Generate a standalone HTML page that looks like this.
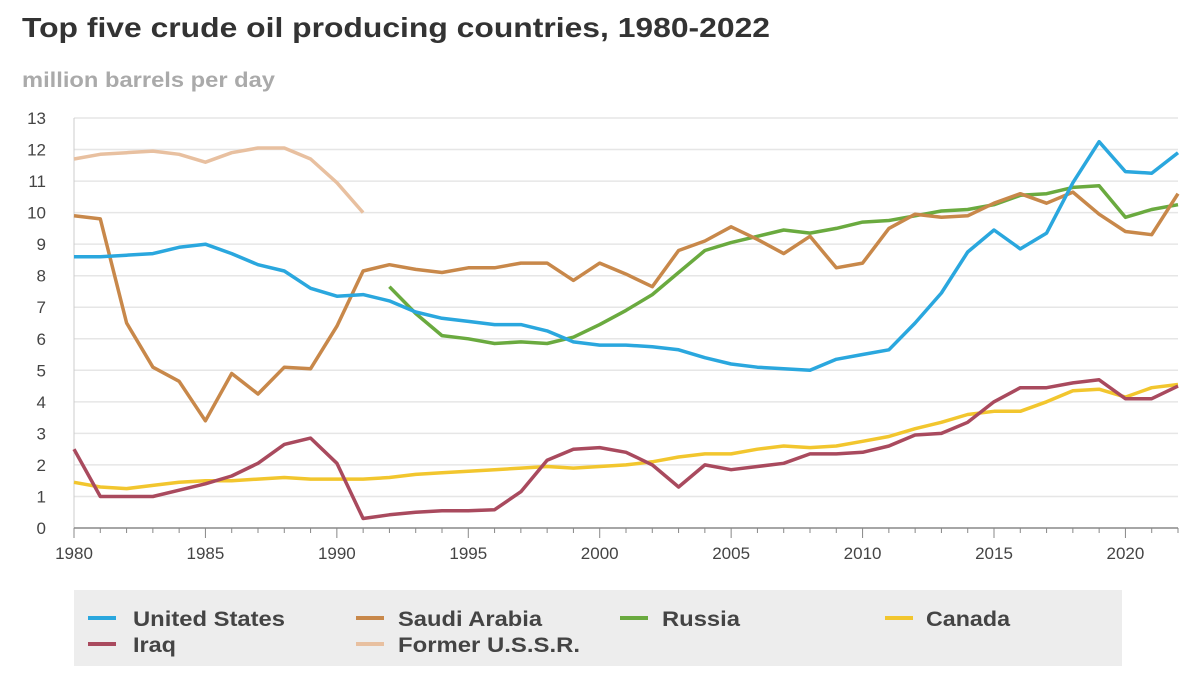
<!DOCTYPE html>
<html><head><meta charset="utf-8"><style>
body{margin:0;background:#fff;width:1200px;height:675px;overflow:hidden;font-family:"Liberation Sans",sans-serif}
</style></head><body>
<svg id="s" width="1200" height="675" xmlns="http://www.w3.org/2000/svg" font-family="Liberation Sans, sans-serif">
<text x="22" y="37" font-size="28" font-weight="bold" fill="#333" textLength="748" lengthAdjust="spacingAndGlyphs">Top five crude oil producing countries, 1980-2022</text>
<text x="22" y="87" font-size="21" font-weight="bold" fill="#aaa" textLength="253" lengthAdjust="spacingAndGlyphs">million barrels per day</text>
<g id="grid"></g>
<g font-size="17" fill="#444" text-anchor="end" id="ylab"></g>
<g font-size="17" fill="#444" text-anchor="middle" id="xlab"></g>
<g id="lines" fill="none" stroke-width="3.5" stroke-linejoin="round"></g>
<rect x="74" y="590" width="1048" height="76" fill="#ededed"/>
<g stroke-width="4">
<line x1="88" y1="618" x2="116" y2="618" stroke="#2aa7de"/>
<line x1="356" y1="618" x2="384" y2="618" stroke="#c8884a"/>
<line x1="620" y1="618" x2="648" y2="618" stroke="#6aaa3f"/>
<line x1="885" y1="618" x2="913" y2="618" stroke="#f2c62e"/>
<line x1="88" y1="644" x2="116" y2="644" stroke="#a94a5e"/>
<line x1="356" y1="644" x2="384" y2="644" stroke="#e8c0a0"/>
</g>
<g font-size="21" font-weight="bold" fill="#444" lengthAdjust="spacingAndGlyphs">
<text x="133" y="626" textLength="152" lengthAdjust="spacingAndGlyphs">United States</text>
<text x="398" y="626" textLength="144" lengthAdjust="spacingAndGlyphs">Saudi Arabia</text>
<text x="662" y="626" textLength="78" lengthAdjust="spacingAndGlyphs">Russia</text>
<text x="926" y="626" textLength="84" lengthAdjust="spacingAndGlyphs">Canada</text>
<text x="133" y="652" textLength="43" lengthAdjust="spacingAndGlyphs">Iraq</text>
<text x="398" y="652" textLength="182" lengthAdjust="spacingAndGlyphs">Former U.S.S.R.</text>
</g>
</svg>
<script>
var X=y=>74+(y-1980)*1104/42, Y=v=>528-v*410/13, NS="http://www.w3.org/2000/svg";
function el(p,t,a,txt){var e=document.createElementNS(NS,t);for(var k in a)e.setAttribute(k,a[k]);if(txt!=null)e.textContent=txt;document.getElementById(p).appendChild(e);}
for(var i=0;i<=13;i++){ if(i>0)el("grid","line",{x1:74,x2:1178,y1:Y(i),y2:Y(i),stroke:"#e6e6e6","stroke-width":1.5}); el("ylab","text",{x:46,y:Y(i)+6},i);}
el("grid","line",{x1:74,x2:74,y1:118,y2:528,stroke:"#ccc","stroke-width":1});
el("grid","line",{x1:74,x2:1178,y1:528,y2:528,stroke:"#888","stroke-width":1.5});
for(var yr=1980;yr<=2022;yr++){el("grid","line",{x1:X(yr),x2:X(yr),y1:528,y2:yr%5==0?538:533,stroke:"#888","stroke-width":1});}
for(var yr=1980;yr<=2020;yr+=5)el("xlab","text",{x:X(yr),y:559},yr);
var D=[
["#e8c0a0",1980,[11.7,11.85,11.9,11.95,11.85,11.6,11.9,12.05,12.05,11.7,10.95,10.0]],
["#f2c62e",1980,[1.45,1.3,1.25,1.35,1.45,1.5,1.5,1.55,1.6,1.55,1.55,1.55,1.6,1.7,1.75,1.8,1.85,1.9,1.95,1.9,1.95,2.0,2.1,2.25,2.35,2.35,2.5,2.6,2.55,2.6,2.75,2.9,3.15,3.35,3.6,3.7,3.7,4.0,4.35,4.4,4.15,4.45,4.55]],
["#a94a5e",1980,[2.5,1.0,1.0,1.0,1.2,1.4,1.65,2.05,2.65,2.85,2.05,0.3,0.42,0.5,0.55,0.55,0.58,1.15,2.15,2.5,2.55,2.4,2.0,1.3,2.0,1.85,1.95,2.05,2.35,2.35,2.4,2.6,2.95,3.0,3.35,4.0,4.45,4.45,4.6,4.7,4.1,4.1,4.5]],
["#6aaa3f",1992,[7.65,6.8,6.1,6.0,5.85,5.9,5.85,6.05,6.45,6.9,7.4,8.1,8.8,9.05,9.25,9.45,9.35,9.5,9.7,9.75,9.9,10.05,10.1,10.25,10.55,10.6,10.8,10.85,9.85,10.1,10.25]],
["#c8884a",1980,[9.9,9.8,6.5,5.1,4.65,3.4,4.9,4.25,5.1,5.05,6.4,8.15,8.35,8.2,8.1,8.25,8.25,8.4,8.4,7.85,8.4,8.05,7.65,8.8,9.1,9.55,9.15,8.7,9.25,8.25,8.4,9.5,9.95,9.85,9.9,10.3,10.6,10.3,10.65,9.95,9.4,9.3,10.6]],
["#2aa7de",1980,[8.6,8.6,8.65,8.7,8.9,9.0,8.7,8.35,8.15,7.6,7.35,7.4,7.2,6.85,6.65,6.55,6.45,6.45,6.25,5.9,5.8,5.8,5.75,5.65,5.4,5.2,5.1,5.05,5.0,5.35,5.5,5.65,6.5,7.45,8.75,9.45,8.85,9.35,10.95,12.25,11.3,11.25,11.9]]];
D.forEach(d=>{el("lines","polyline",{stroke:d[0],points:d[2].map((v,i)=>X(d[1]+i).toFixed(1)+","+Y(v).toFixed(1)).join(" ")});});
</script>
</body></html>
